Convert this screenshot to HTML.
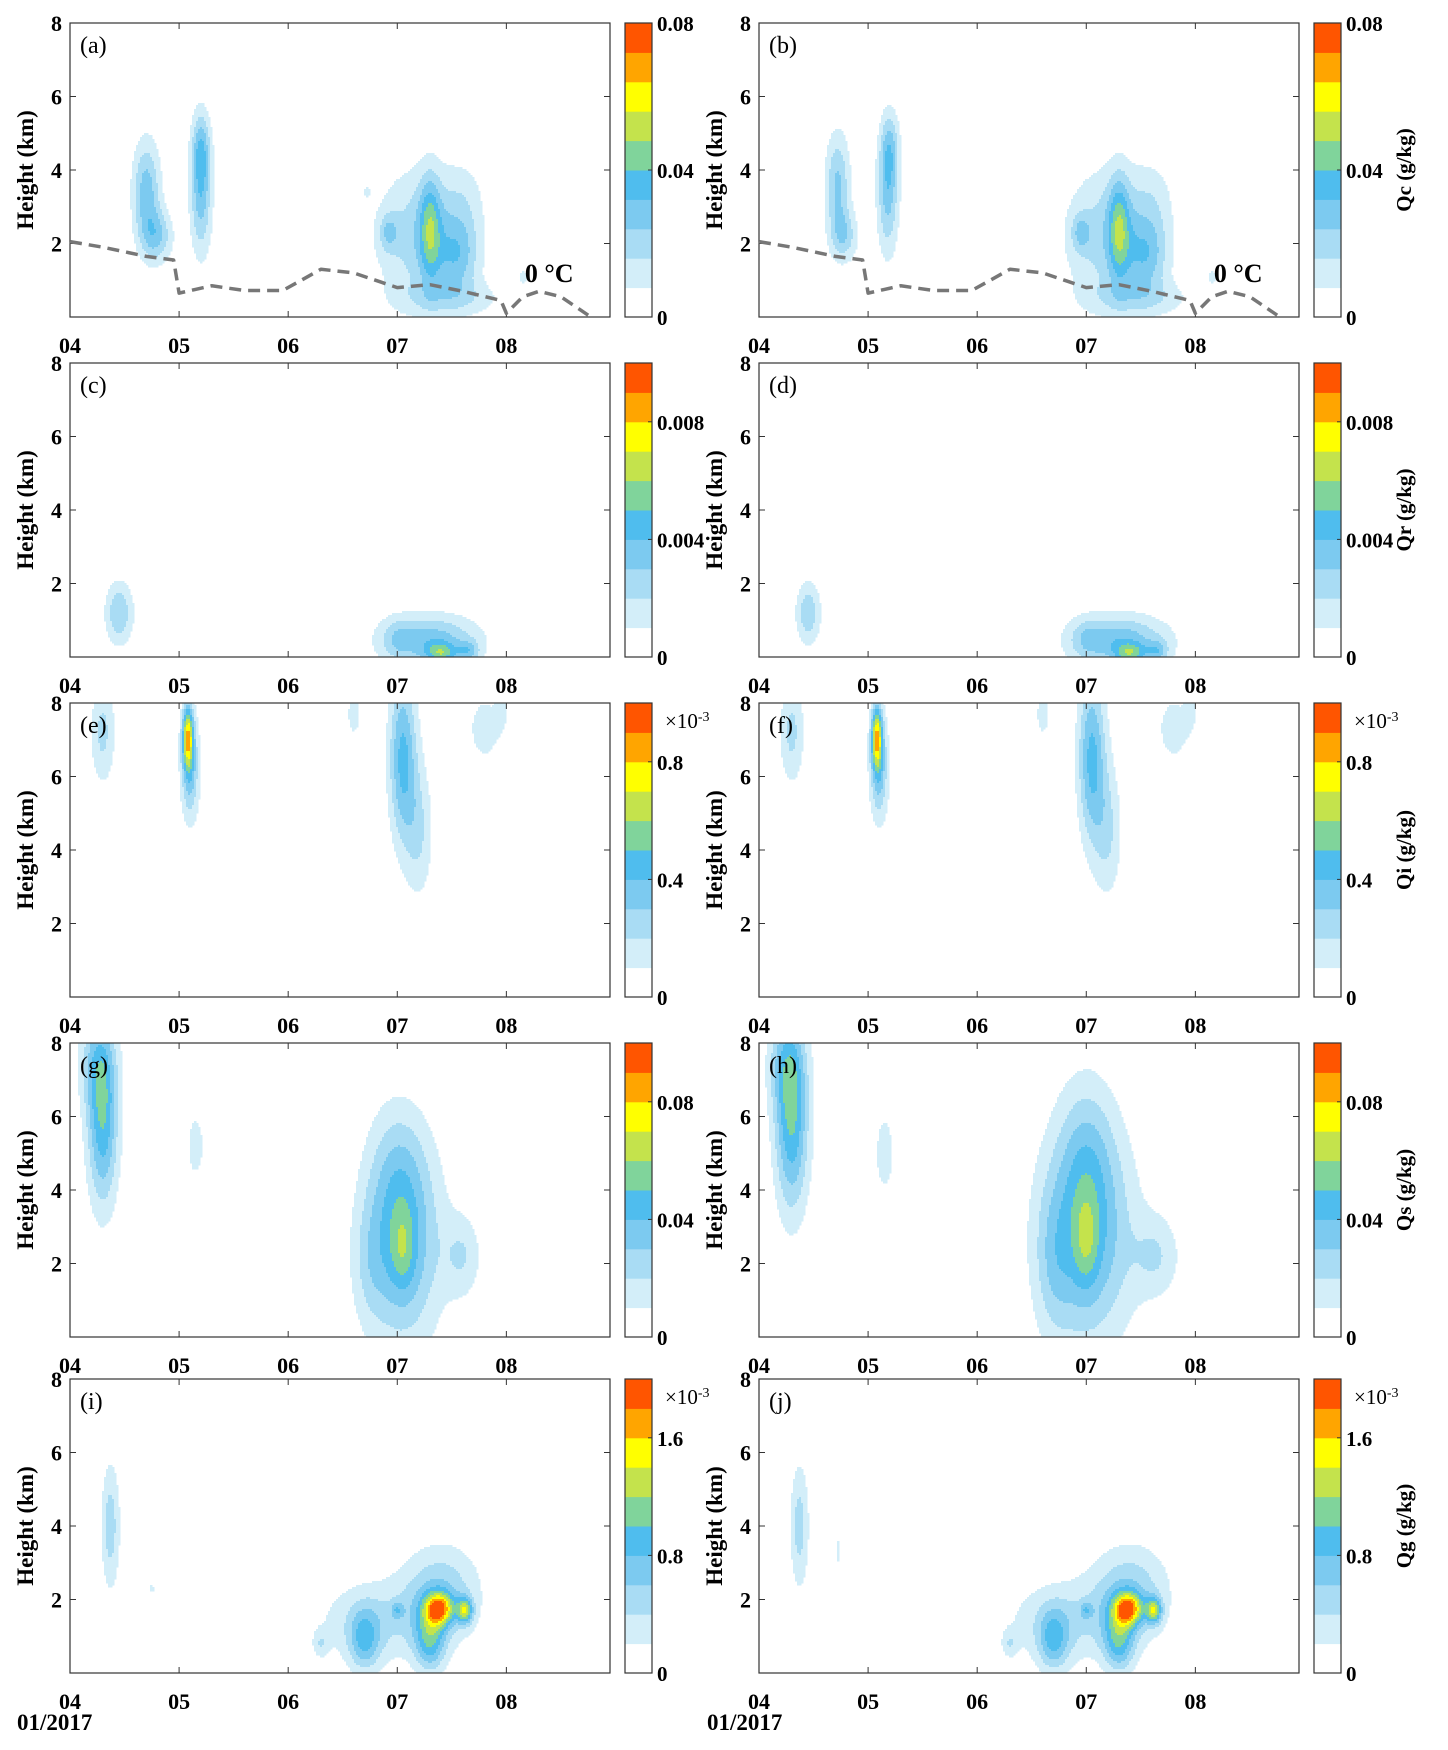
<!DOCTYPE html>
<html><head><meta charset="utf-8">
<style>
body{margin:0;background:#fff;}
svg{display:block;font-family:"Liberation Serif",serif;}
</style></head>
<body>
<svg id="fig" width="1448" height="1750" viewBox="0 0 1448 1750" xmlns="http://www.w3.org/2000/svg"></svg>
<script>
// ---- data ----
const timeTicks = [4,5,6,7,8];
const timeTickLabels = ["04","05","06","07","08"];
const heightTicks = [2,4,6,8];
const levelColors = ["#ffffff","#d3eef9","#a9dcf4","#7ccaf0","#4fbdee","#80d49b","#c4e34c","#ffff00","#ffa500","#ff5500"];
const panelLetters = ["a","b","c","d","e","f","g","h","i","j"];
const cbTitles = ["","Qc (g/kg)","","Qr (g/kg)","","Qi (g/kg)","","Qs (g/kg)","","Qg (g/kg)"];
const cbTickLabels = [["0","0.04","0.08"],["0","0.004","0.008"],["0","0.4","0.8"],["0","0.04","0.08"],["0","0.8","1.6"]];
const cbTickLevels = [[0,5,10],[0,4,8],[0,4,8],[0,4,8],[0,4,8]];
const cbExponent = [false,false,true,false,true];
// freezing level (0 °C) line
const zeroT = [4,4.3,4.7,4.95,5.0,5.15,5.3,5.6,5.95,6.15,6.3,6.6,6.85,7.0,7.3,7.6,7.95,8.0,8.15,8.3,8.5,8.75];
const zeroH = [2.05,1.9,1.65,1.55,0.65,0.75,0.85,0.72,0.72,1.05,1.3,1.2,0.95,0.8,0.88,0.7,0.45,0.1,0.55,0.7,0.55,0.05];
// blobs: [time, height, sigmaT, sigmaH, amplitude(level units)]
const blobsQc = [[4.7,3.4,0.09,1.0,3.6],[4.8,2.2,0.1,0.5,2.8],[5.2,3.4,0.07,1.2,3.6],[5.2,4.6,0.06,0.7,2.4],[7.3,2.4,0.07,1.0,3.6],[7.2,2.2,0.28,1.3,2.6],[7.55,1.6,0.14,0.7,2.6],[6.92,2.3,0.06,0.35,2.0],[7.5,0.5,0.35,0.35,1.6],[6.72,3.4,0.02,0.1,1.2],[8.15,1.1,0.04,0.2,1.2],[7.6,3.0,0.15,0.9,1.3]];
const blobsQc2 = [[4.72,3.6,0.08,1.0,3.2],[4.78,2.2,0.09,0.5,2.4],[5.18,3.4,0.07,1.2,3.4],[5.2,4.6,0.06,0.7,2.2],[7.3,2.4,0.07,1.0,3.7],[7.2,2.2,0.28,1.3,2.6],[7.55,1.6,0.14,0.7,2.6],[6.95,2.3,0.06,0.35,2.0],[7.5,0.5,0.35,0.35,1.6],[8.15,1.1,0.04,0.2,1.2],[7.6,3.0,0.15,0.9,1.3]];
const blobsQr = [[4.45,1.2,0.09,0.6,3.0],[7.3,0.45,0.32,0.5,3.6],[7.4,0.1,0.1,0.2,3.4],[7.65,0.15,0.07,0.2,2.3],[7.0,0.5,0.1,0.4,1.2]];
const blobsQr2 = [[4.45,1.2,0.08,0.6,2.8],[7.3,0.45,0.32,0.5,3.7],[7.4,0.1,0.1,0.2,3.4],[7.65,0.15,0.07,0.2,2.3],[7.0,0.5,0.1,0.4,1.2]];
const blobsQi = [[4.3,7.2,0.08,1.0,2.3],[5.08,7.1,0.035,0.6,6.5],[5.1,6.2,0.06,1.0,3.6],[7.05,6.5,0.09,1.6,4.3],[7.2,4.5,0.09,1.3,2.0],[6.6,7.7,0.05,0.5,1.5],[7.8,7.3,0.1,0.6,1.8],[7.95,7.8,0.04,0.4,1.5]];
const blobsQs = [[4.3,5.8,0.1,1.6,4.6],[4.25,7.5,0.12,1.0,2.5],[5.15,5.2,0.07,0.8,1.4],[7.05,2.6,0.25,2.0,4.0],[7.05,2.4,0.08,0.8,1.8],[7.0,4.5,0.18,1.3,1.5],[7.6,2.2,0.12,0.8,1.8],[6.75,2.0,0.12,1.2,1.2]];
const blobsQs2 = [[4.3,5.8,0.11,1.7,4.8],[4.25,7.5,0.12,1.0,2.5],[5.15,5.0,0.08,1.0,1.4],[7.0,2.8,0.3,2.1,4.2],[7.0,2.6,0.08,0.9,1.8],[7.0,5.0,0.18,1.5,1.8],[7.65,2.2,0.15,0.8,1.8],[6.7,2.0,0.12,1.4,1.3]];
const blobsQg = [[4.37,4.0,0.06,1.2,2.6],[4.75,2.3,0.02,0.2,1.2],[6.7,0.9,0.1,0.6,3.2],[6.3,0.8,0.05,0.25,1.5],[6.8,1.4,0.38,0.8,2.0],[7.38,1.75,0.09,0.3,6.8],[7.62,1.7,0.05,0.25,5.2],[7.3,0.9,0.1,0.6,4.0],[7.4,2.2,0.25,0.9,2.8],[7.0,1.7,0.04,0.15,2.0]];
const blobsQg2 = [[4.37,4.0,0.06,1.2,2.5],[4.72,3.3,0.015,0.5,1.2],[6.7,0.9,0.1,0.6,3.2],[6.3,0.8,0.05,0.25,1.5],[6.8,1.4,0.38,0.8,2.0],[7.38,1.75,0.09,0.3,6.8],[7.62,1.7,0.05,0.25,5.2],[7.3,0.9,0.1,0.6,4.0],[7.4,2.2,0.25,0.9,2.8],[7.0,1.7,0.04,0.15,2.0]];
const panelBlobs = [blobsQc,blobsQc2,blobsQr,blobsQr2,blobsQi,blobsQi,blobsQs,blobsQs2,blobsQg,blobsQg2];

// ---- layout ----
const NS = "http://www.w3.org/2000/svg";
const svg = document.getElementById("fig");
const colLeft = [70,759], rowTop = [23,363,703,1043,1379];
const W = 540, H = 294, T0 = 4, T1 = 8.95, HMAX = 8;
function mk(tag, attrs, parent){ const e=document.createElementNS(NS,tag); for(const k in attrs) e.setAttribute(k,attrs[k]); (parent||svg).appendChild(e); return e; }
function field(blobs,t,h){ let v=0; for(const b of blobs){ const dt=(t-b[0])/b[2], dh=(h-b[1])/b[3]; v+=b[4]*Math.exp(-0.5*(dt*dt+dh*dh)); } return v; }

for(let p=0;p<10;p++){
  const col=p%2,row=Math.floor(p/2);
  const L=colLeft[col], Tp=rowTop[row];
  const xS=t=>L+(t-T0)/(T1-T0)*W, yS=h=>Tp+H-h/HMAX*H;
  const g=mk("g",{});
  
  
  const fg=mk("g",{},g);
  
  
  const d=2;
  for(let y=0;y<H;y+=d){
    const h=(H-y-d/2)/H*HMAX;
    let runStart=0, runLev=-1;
    for(let x=0;x<=W;x+=d){
      let lev=0;
      if(x<W){ const t=T0+(x+d/2)/W*(T1-T0); lev=Math.min(9,Math.floor(field(panelBlobs[p],t,h))); }
      if(lev!==runLev){
        if(runLev>0){ mk("rect",{x:L+runStart,y:Tp+y,width:x-runStart+0.5,height:d+0.5,fill:levelColors[runLev]},fg); }
        runLev=lev; runStart=x;
      }
    }
  }
  const ax=mk("rect",{x:L,y:Tp,width:W,height:H,fill:"none",stroke:"#333","stroke-width":1.2},g);
  
  
  for(let i=0;i<timeTicks.length;i++){
    const x=xS(timeTicks[i]);
    mk("line",{x1:x,y1:Tp+H,x2:x,y2:Tp+H-6,stroke:"#333"},g);
    mk("line",{x1:x,y1:Tp,x2:x,y2:Tp+6,stroke:"#333"},g);
    const tx=mk("text",{x:x,y:Tp+H+36,"text-anchor":"middle","font-size":22,"font-weight":"bold"},g);
    tx.textContent=timeTickLabels[i];
    
    
  }
  for(const hv of heightTicks){
    const y=yS(hv);
    mk("line",{x1:L,y1:y,x2:L+6,y2:y,stroke:"#333"},g);
    mk("line",{x1:L+W,y1:y,x2:L+W-6,y2:y,stroke:"#333"},g);
    const ty=mk("text",{x:L-8,y:y+8,"text-anchor":"end","font-size":22,"font-weight":"bold"},g);
    ty.textContent=hv;
    
    
  }
  const yt=mk("text",{x:0,y:0,transform:`translate(${L-37},${Tp+H/2}) rotate(-90)`,"text-anchor":"middle","font-size":23,"font-weight":"bold"},g);
  yt.textContent="Height (km)";
  
  
  const pl=mk("text",{x:L+10,y:Tp+30,"font-size":24},g);
  pl.textContent="("+panelLetters[p]+")";
  
  
  if(row===0){
    let pts=zeroT.map((t,i)=>xS(t)+","+yS(zeroH[i])).join(" ");
    const zl=mk("polyline",{points:pts,fill:"none",stroke:"#777","stroke-width":3.5,"stroke-dasharray":"12,7","stroke-linejoin":"round"},g);
    
    
    const zt=mk("text",{x:xS(8.17),y:yS(0.95),"font-size":26,"font-weight":"bold"},g);
    zt.textContent="0 °C";
    
    
  }
  const cbx=L+555, cbw=27, bh=H/10;
  const cb=mk("g",{},g);
  
  
  for(let k=0;k<10;k++) mk("rect",{x:cbx,y:Tp+H-(k+1)*bh,width:cbw,height:bh+0.5,fill:levelColors[k]},cb);
  mk("rect",{x:cbx,y:Tp,width:cbw,height:H,fill:"none",stroke:"#333","stroke-width":1.2},cb);
  for(let k=0;k<3;k++){
    const y=Tp+H-cbTickLevels[row][k]*bh;
    mk("line",{x1:cbx+cbw,y1:y,x2:cbx+cbw-4,y2:y,stroke:"#333"},cb);
    const ct=mk("text",{x:cbx+cbw+5,y:y+8,"font-size":21,"font-weight":"bold"},cb);
    ct.textContent=cbTickLabels[row][k];
    
    
  }
  if(cbExponent[row]){
    const ex=mk("text",{x:cbx+cbw+13,y:Tp+25,"font-size":21},cb);
    ex.innerHTML='×10<tspan font-size="14" dy="-7">-3</tspan>';
    
    
  }
  if(cbTitles[p]){
    const ctl=mk("text",{x:0,y:0,transform:`translate(${cbx+cbw+70},${Tp+H/2}) rotate(-90)`,"text-anchor":"middle","font-size":21,"font-weight":"bold"},cb);
    ctl.textContent=cbTitles[p];
    
    
  }
}
for(const x of [17,707]){
  const dt=mk("text",{x:x,y:1730,"font-size":23,"font-weight":"bold"});
  dt.textContent="01/2017";
  
  
}
</script>
</body></html>
